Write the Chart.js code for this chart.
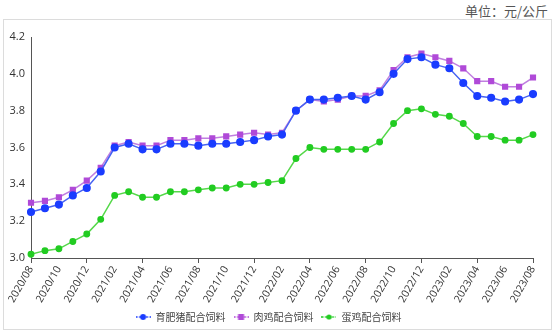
<!DOCTYPE html>
<html>
<head>
<meta charset="utf-8">
<script src="https://cdn.jsdelivr.net/npm/chart.js@4.4.0/dist/chart.umd.min.js"></script>
<style>
  html, body { margin: 0; padding: 0; background: #fff; }
  #wrap { position: relative; width: 554px; height: 332px; }
  #frame { position: absolute; left: 3px; top: 19px; width: 547px; height: 309px; border: 1px solid #dcdcdc; }
  #unit { position: absolute; right: 6px; top: 1px; font: 13px "Noto Sans CJK SC", sans-serif; color: #555; }
  canvas { position: absolute; left: 0; top: 0; }
</style>
</head>
<body>
<div id="wrap">
  <div id="frame"></div>
  <div id="unit">单位：元/公斤</div>
  <canvas id="chart" width="554" height="332"></canvas>
</div>
<script>
// months 2020/08 .. 2023/08
const months = [
  "2020/08","2020/09","2020/10","2020/11","2020/12","2021/01","2021/02","2021/03","2021/04",
  "2021/05","2021/06","2021/07","2021/08","2021/09","2021/10","2021/11","2021/12","2022/01",
  "2022/02","2022/03","2022/04","2022/05","2022/06","2022/07","2022/08","2022/09","2022/10",
  "2022/11","2022/12","2023/01","2023/02","2023/03","2023/04","2023/05","2023/06","2023/07","2023/08"
];
const pigFeed = [3.25,3.27,3.29,3.34,3.38,3.47,3.60,3.62,3.59,3.59,3.62,3.62,3.61,3.62,3.62,3.63,3.64,3.66,
  3.67,3.80,3.86,3.86,3.87,3.88,3.86,3.90,4.00,4.08,4.09,4.05,4.03,3.95,3.88,3.87,3.85,3.86,3.89];
const broilerFeed = [3.30,3.31,3.33,3.37,3.42,3.49,3.61,3.63,3.61,3.61,3.64,3.64,3.65,3.65,3.66,3.67,3.68,3.67,
  3.68,3.80,3.86,3.85,3.86,3.88,3.88,3.91,4.02,4.09,4.11,4.09,4.07,4.03,3.96,3.96,3.93,3.93,3.98];
const layerFeed = [3.02,3.04,3.05,3.09,3.13,3.21,3.34,3.36,3.33,3.33,3.36,3.36,3.37,3.38,3.38,3.40,3.40,3.41,
  3.42,3.54,3.60,3.59,3.59,3.59,3.59,3.63,3.73,3.80,3.81,3.78,3.77,3.73,3.66,3.66,3.64,3.64,3.67];
const seriesNames = ["育肥猪配合饲料", "肉鸡配合饲料", "蛋鸡配合饲料"];

const font = '"Open Sans", "Noto Sans CJK SC", sans-serif';

// little "-●-" legend icons
function legendIcon(color, shape) {
  const c = document.createElement("canvas");
  c.width = 15; c.height = 8;
  const g = c.getContext("2d");
  g.strokeStyle = color; g.lineWidth = 1.5;
  g.setLineDash([2, 1.5]);
  g.beginPath(); g.moveTo(0, 4); g.lineTo(15, 4); g.stroke();
  g.fillStyle = color;
  if (shape === "rect") g.fillRect(4.5, 1, 6, 6);
  else { g.beginPath(); g.arc(7.5, 4, shape === "small" ? 2.6 : 3, 0, Math.PI * 2); g.fill(); }
  return c;
}

const styles = [
  { line: "#4763f2", point: "#1a3cff", shape: "circle", radius: 3.3 },
  { line: "#c07fe0", point: "#b04ad8", shape: "rect", radius: 3.3 },
  { line: "#55d84a", point: "#22cc22", shape: "circle", radius: 2.7 }
];
const icons = [legendIcon("#1a3cff", "circle"), legendIcon("#b04ad8", "rect"), legendIcon("#22cc22", "small")];

new Chart(document.getElementById("chart"), {
  type: "line",
  data: {
    labels: months,
    datasets: [pigFeed, broilerFeed, layerFeed].map((d, i) => ({
      label: seriesNames[i],
      data: d,
      borderColor: styles[i].line,
      backgroundColor: styles[i].point,
      pointBackgroundColor: styles[i].point,
      pointBorderColor: styles[i].point,
      pointStyle: styles[i].shape,
      pointRadius: styles[i].radius,
      borderWidth: 1.5,
      tension: 0,
      fill: false
    }))
  },
  options: {
    responsive: false,
    animation: false,
    layout: { padding: { left: 4, right: 21, top: 37, bottom: 0 } },
    plugins: {
      tooltip: { enabled: false },
      legend: {
        position: "bottom",
        labels: {
          usePointStyle: true,
          pointStyleWidth: 15,
          padding: 8,
          color: "#444",
          font: { family: '"Noto Sans CJK SC", sans-serif', size: 10 },
          generateLabels: (chart) => chart.data.datasets.map((ds, i) => ({
            text: ds.label,
            pointStyle: icons[i],
            fillStyle: ds.pointBackgroundColor,
            strokeStyle: ds.pointBackgroundColor,
            lineWidth: 0,
            fontColor: "#444",
            datasetIndex: i,
            hidden: false
          }))
        }
      }
    },
    scales: {
      x: {
        offset: false,
        afterFit: (s) => { s.height = 46; },
        grid: {
          drawOnChartArea: false,
          drawTicks: true,
          tickLength: 5,
          color: (ctx) => (ctx.index % 2 === 0 ? "#555" : "rgba(0,0,0,0)")
        },
        border: { display: true, color: "#555", width: 1 },
        ticks: {
          autoSkip: false,
          maxRotation: 60,
          minRotation: 60,
          padding: 1,
          color: "#333",
          font: { family: font, size: 10.5 },
          callback: function (v, i) { return i % 2 === 0 ? this.getLabelForValue(v) : null; }
        }
      },
      y: {
        min: 3.0,
        max: 4.2,
        afterFit: (s) => { s.width = 27; },
        grid: { display: false, drawTicks: false },
        border: { display: true, color: "#555", width: 1 },
        ticks: {
          stepSize: 0.2,
          padding: 6,
          color: "#333",
          font: { family: font, size: 11 },
          callback: (v) => v.toFixed(1)
        }
      }
    }
  }
});
</script>
</body>
</html>
